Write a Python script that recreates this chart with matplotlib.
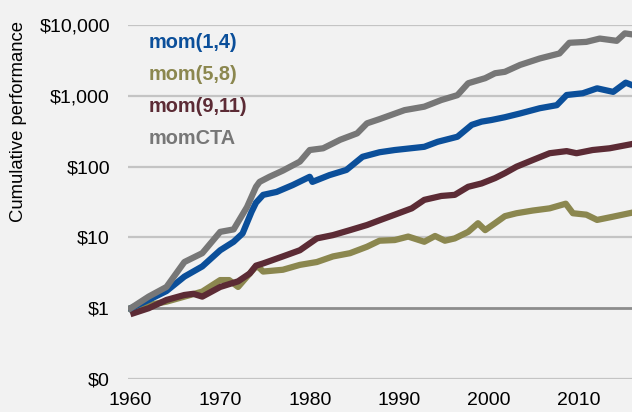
import matplotlib.pyplot as plt
from matplotlib.ticker import FixedLocator, FixedFormatter

# series (year, cumulative value of $1)
years_cta = [1960, 1962, 1964, 1966, 1968, 1970, 1971.5, 1973, 1974, 1974.4, 1975.5, 1977,
             1978.9, 1980, 1981.5, 1983.4, 1985.3, 1986.4, 1987.8, 1990.6, 1992.8, 1994.7,
             1996.5, 1997.7, 1999.6, 2000.7, 2001.8, 2003.5, 2005.7, 2007.9, 2009, 2010.9,
             2012.4, 2014.3, 2015.2, 2016]
mom_cta = [1.0, 1.46, 2.0, 4.5, 6.0, 12, 13, 27, 52, 61, 72, 88,
           118, 172, 182, 240, 296, 410, 470, 630, 705, 875,
           1025, 1510, 1780, 2090, 2190, 2740, 3380, 3980, 5630, 5800,
           6460, 6000, 7650, 7400]

years_14 = [1960, 1962, 1964, 1966, 1968, 1970, 1971.5, 1972.5, 1973.5, 1974, 1974.8, 1976.3,
            1978.1, 1980, 1980.3, 1982.2, 1984.1, 1985.9, 1987.8, 1989.5, 1992.8, 1994.3,
            1996.5, 1998.1, 1999.2, 2000.3, 2001.8, 2003.5, 2005.7, 2007.6, 2008.7, 2010.5,
            2012.1, 2013.9, 2015.3, 2016]
mom_14 = [1.0, 1.31, 1.75, 2.8, 3.9, 6.6, 8.7, 11.4, 23, 31, 40, 44,
          55, 72, 61, 76, 90, 138, 160, 172, 191, 225,
          265, 390, 433, 457, 500, 565, 670, 740, 1030, 1090,
          1280, 1140, 1540, 1420]

years_58 = [1960, 1962, 1964, 1966, 1968, 1970, 1971, 1972, 1973, 1974, 1974.4, 1974.8,
            1977, 1978.9, 1980.8, 1982.6, 1984.5, 1986.4, 1987.8, 1989.5, 1991, 1992.8,
            1994, 1995.1, 1996.2, 1997.7, 1998.8, 1999.6, 2000.7, 2001.8, 2003.1, 2004.9,
            2006.8, 2008.6, 2009.4, 2010.9, 2012.1, 2013.9, 2016]
mom_58 = [1.0, 1.11, 1.24, 1.46, 1.72, 2.5, 2.5, 2.0, 2.8, 3.9, 3.7, 3.3,
          3.5, 4.1, 4.5, 5.4, 6.0, 7.4, 9.0, 9.2, 10.3, 8.7,
          10.5, 9.0, 9.7, 12, 15.9, 12.7, 15.9, 20, 22, 24,
          25.8, 30, 22, 21, 17.7, 19.7, 22.4]

years_911 = [1960.3, 1962, 1964, 1966, 1967, 1968, 1970, 1972, 1973.3, 1974, 1974.8, 1977,
             1978.9, 1980.8, 1982.6, 1984.5, 1986.4, 1987.8, 1989.5, 1991.4, 1992.8, 1994.7,
             1996.2, 1997.7, 1999.2, 2000.7, 2001.8, 2003.1, 2004.9, 2006.8, 2008.7, 2009.8,
             2011.6, 2013.5, 2016]
mom_911 = [0.85, 1.0, 1.31, 1.54, 1.6, 1.46, 2.0, 2.4, 3.1, 4.0, 4.3, 5.4,
           6.6, 9.7, 10.8, 12.7, 15, 17.5, 21, 25.8, 34, 38.6,
           40, 52, 58, 69, 81, 100, 124, 155, 166, 155,
           172, 182, 209]

y_ticks = [0.1, 1, 10, 100, 1000, 10000]
y_tick_labels = ['$0', '$1', '$10', '$100', '$1,000', '$10,000']
x_ticks = [1960, 1970, 1980, 1990, 2000, 2010]

BG = '#f2f2f2'
plt.rcParams['font.family'] = ['Liberation Sans', 'DejaVu Sans']

fig = plt.figure(figsize=(6.32, 4.12), dpi=100, facecolor=BG)
ax = fig.add_axes([0.2025, 0.080, 0.7975, 0.859], facecolor=BG)

ax.set_yscale('log')
ax.set_ylim(0.1, 10000)
ax.set_xlim(1959.7, 2016)

# lineas de grilla
for t in y_ticks:
    if t == 1:
        ax.axhline(t, color='#8c8c8c', lw=2, zorder=1)
    else:
        ax.axhline(t, color='#c4c4c4', lw=1.6, zorder=1)

series = [
    (years_58, mom_58, '#8b874f'),
    (years_911, mom_911, '#5c2b35'),
    (years_14, mom_14, '#0b4f9a'),
    (years_cta, mom_cta, '#777777'),
]
for xs, ys, c in series:
    ax.plot(xs, ys, color=c, lw=4.5, solid_joinstyle='round', zorder=3)

ax.yaxis.set_major_locator(FixedLocator(y_ticks))
ax.yaxis.set_major_formatter(FixedFormatter(y_tick_labels))
ax.yaxis.set_minor_locator(FixedLocator([]))
ax.set_xticks(x_ticks)
ax.tick_params(axis='both', length=0, labelsize=14, colors='black')
ax.tick_params(axis='y', pad=13)
ax.tick_params(axis='x', pad=9)
for s in ax.spines.values():
    s.set_visible(False)

ax.set_ylabel('Cumulative performance', fontsize=13.3)
ax.yaxis.set_label_coords(-0.200, 0.729)

labels = [('mom(1,4)', '#0b4f9a'), ('mom(5,8)', '#8b874f'),
          ('mom(9,11)', '#5c2b35'), ('momCTA', '#777777')]
for i, (txt, c) in enumerate(labels):
    fig.text(149 / 632, 1 - (43 + i * 32) / 412, txt, color=c, fontsize=14.3,
             fontweight='bold', va='center', ha='left')

fig.savefig('out.png', dpi=100, facecolor=BG)
